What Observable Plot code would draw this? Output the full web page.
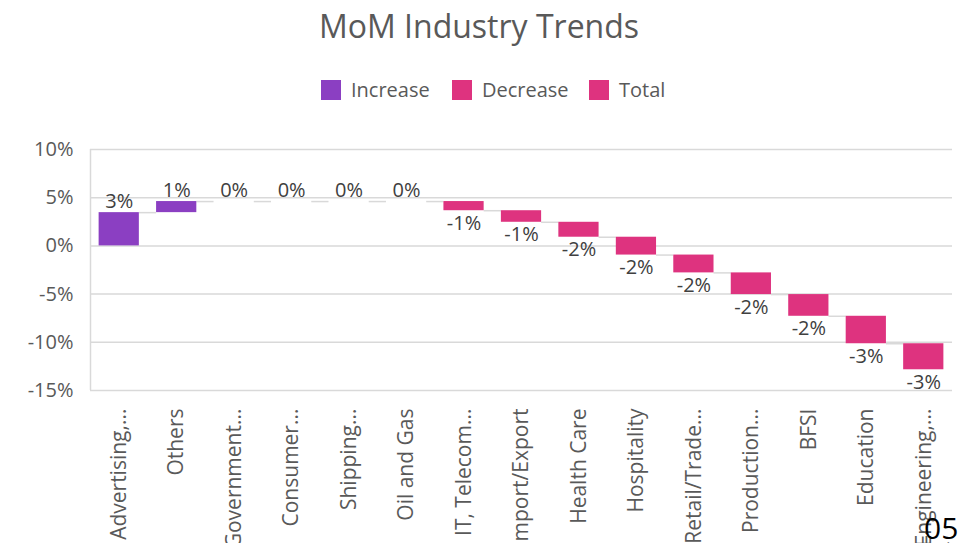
<!DOCTYPE html>
<html><head><meta charset="utf-8">
<script src="https://cdn.jsdelivr.net/npm/d3@7"></script>
<script src="https://cdn.jsdelivr.net/npm/@observablehq/plot@0.6"></script>
<style>
html,body{margin:0;padding:0;background:#fff}
body{font-family:"Open Sans",sans-serif;overflow:hidden;width:958px;height:543px;position:relative}
#title{position:absolute;top:0;left:0;width:958px;text-align:center;font-size:32px;color:#595959;line-height:52px}
.leg{position:absolute;top:77px;font-size:20px;color:#595959;line-height:26px;white-space:nowrap}
.sw{position:absolute;width:20px;height:20px;top:80px}
#chart{position:absolute;left:0;top:120px}
#page{position:absolute;left:924px;top:510px;font-size:30px;color:#000;line-height:36px}
</style></head>
<body>
<div id="title">MoM Industry Trends</div>
<div class="sw" style="left:321px;background:#8B3FC2"></div><div class="leg" style="left:351px">Increase</div>
<div class="sw" style="left:452px;background:#DE337F"></div><div class="leg" style="left:482px">Decrease</div>
<div class="sw" style="left:589px;background:#DE337F"></div><div class="leg" style="left:619px">Total</div>
<div id="chart"></div>
<div id="page">05</div>
<script>
const categories = ["Advertising","Others","Government","Consumer","Shipping","Oil and Gas","IT, Telecom","Import/Export","Health Care","Hospitality","Retail/Trade","Production","BFSI","Education","Engineering"];
const tickLabels = ["Advertising,...","Others","Government...","Consumer...","Shipping...","Oil and Gas","IT, Telecom...","Import/Export","Health Care","Hospitality","Retail/Trade...","Production...","BFSI","Education","Engineering,..."];
const changes = [3.45, 1.15, 0, 0, 0, 0, -0.95, -1.2, -1.55, -1.85, -1.85, -2.25, -2.25, -2.85, -2.7];
const yTicks = [10, 5, 0, -5, -10, -15];
const colorIncrease = "#8B3FC2";
const colorDecrease = "#DE337F";

let cum = 0;
const rows = categories.map((c, i) => {
  const start = cum; cum += changes[i];
  return {i, cat: c, start, end: cum, change: changes[i], label: `${Math.round(changes[i])}%`};
});
const connectors = rows.slice(0, -1).map(r => ({i: r.i, level: r.end}));
const hw = 0.35;

const chart = Plot.plot({
  width: 958,
  height: 430,
  marginTop: 29,
  marginBottom: 160,
  marginLeft: 90,
  marginRight: 6,
  style: {fontFamily: "Open Sans", fontSize: "20px", color: "#595959", background: "transparent"},
  x: {domain: [-0.5, 14.5], axis: null},
  y: {domain: [-15, 10], axis: null},
  marks: [
    Plot.gridY(yTicks, {stroke: "#d9d9d9", strokeOpacity: 1, strokeWidth: 1.5}),
    Plot.ruleX([-0.5], {y1: -15, y2: 10, stroke: "#d9d9d9", strokeWidth: 1.5}),
    Plot.ruleY(connectors, {x1: d => d.i + hw, x2: d => d.i + 1 - hw, y: "level", stroke: "#d9d9d9", strokeWidth: 1.5}),
    Plot.rectY(rows.filter(d => d.change !== 0), {x1: d => d.i - hw, x2: d => d.i + hw, y1: "start", y2: "end", fill: d => d.change > 0 ? colorIncrease : colorDecrease}),
    Plot.text(rows.filter(d => d.change >= 0), {x: "i", y: "end", text: "label", lineAnchor: "bottom", dy: -5, fill: "#404040", fontSize: 20}),
    Plot.text(rows.filter(d => d.change < 0), {x: "i", y: "end", text: "label", lineAnchor: "top", dy: 5, fill: "#404040", fontSize: 20}),
    Plot.axisY(yTicks, {tickSize: 0, tickPadding: 17, tickFormat: d => `${d}%`, fontSize: 20, fill: "#595959"}),
    Plot.axisX(d3.range(categories.length), {tickSize: 0, tickPadding: 18, tickRotate: -90, tickFormat: i => tickLabels[i], fontSize: 21, fill: "#595959"})
  ]
});
document.getElementById("chart").appendChild(chart);
</script>
</body></html>
